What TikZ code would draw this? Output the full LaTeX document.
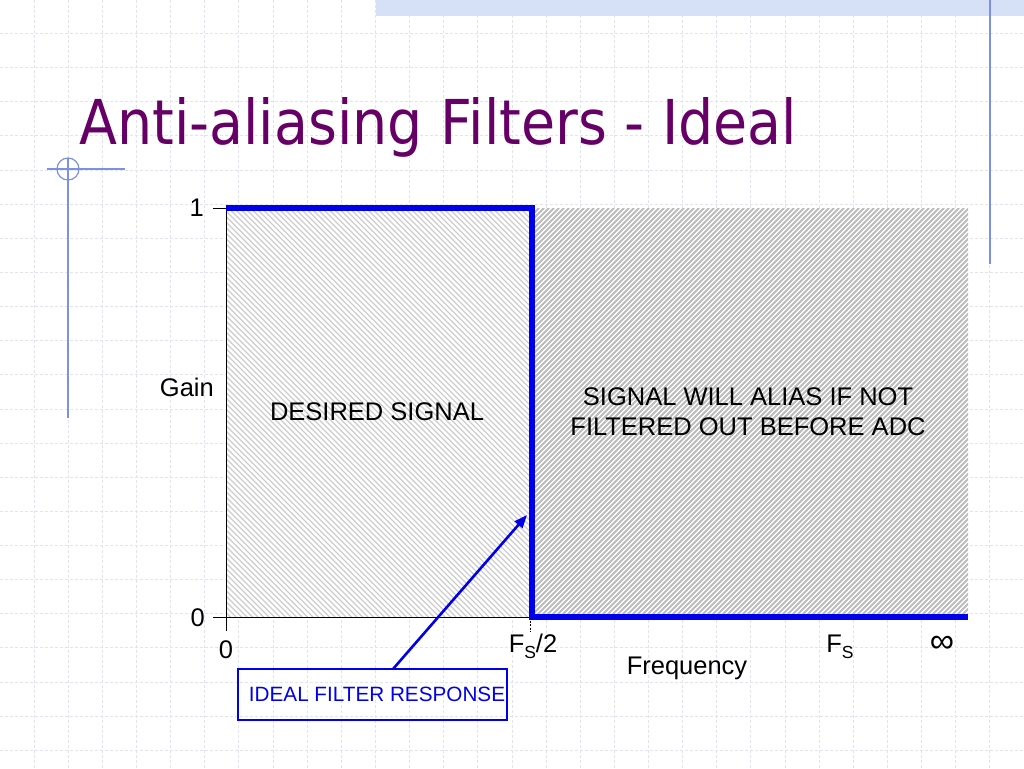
\documentclass[tikz,border=0pt]{standalone}
\usepackage{fontspec}
\setmainfont{Liberation Sans}
\newfontfamily\titlefont{DejaVu Sans}
\usetikzlibrary{arrows.meta}
\definecolor{gridc}{RGB}{226,226,245}
\definecolor{deco}{RGB}{125,145,228}
\definecolor{band}{RGB}{214,225,248}
\definecolor{titlec}{RGB}{102,0,102}
\definecolor{hatchA}{RGB}{205,205,205}
\definecolor{hatchB}{RGB}{188,188,188}
\definecolor{filt}{RGB}{0,0,235}
\tikzset{
  gridline/.style={draw=gridc, line width=1pt, dash pattern=on 3pt off 2pt},
  decoline/.style={draw=deco, line width=1.2pt},
  hatchleft/.style={draw=hatchA, line width=1.2pt},
  hatchright/.style={draw=hatchB, line width=1.9pt},
  axisline/.style={draw=black, line width=1pt},
  filterline/.style={draw=filt, line width=5.5pt, line join=miter},
  lbl/.style={font=\fontsize{25.5}{30}\selectfont, text=black, inner sep=0pt},
  respbox/.style={draw=filt, line width=2.6pt, minimum width=269pt,
    minimum height=51pt, inner sep=0pt},
  resptext/.style={text=filt, font=\fontsize{20.7}{24}\selectfont, inner sep=0pt},
  arrowline/.style={draw=filt, line width=2.6pt, -{Triangle[length=13pt,width=10pt]}}
}
\newcommand{\subS}{\raisebox{-6pt}{\fontsize{17.5}{20}\selectfont S}}
\begin{document}
\begin{tikzpicture}[x=1pt,y=-1pt]
\useasboundingbox (0,0) rectangle (1024,768);
\fill[white] (0,0) rectangle (1024,768);
% background grid
\foreach \i in {1,...,29} \draw[gridline] (\i*34.133,0) -- (\i*34.133,768);
\foreach \j in {1,...,22} \draw[gridline] (0,\j*34.133-0.6) -- (1024,\j*34.133-0.6);
% decorations
\fill[band] (376,0) rectangle (1024,16);
\draw[decoline] (990,0) -- (990,264);
\draw[decoline] (47,169) -- (125,169);
\draw[decoline] (68,158) -- (68,418);
\draw[decoline] (68,169) circle[radius=11pt];
% title
\node[anchor=base west, text=titlec, inner sep=0pt] (title) at (79,144)
  {\resizebox{718pt}{47pt}{\titlefont Anti-aliasing Filters - Ideal}};
% hatched regions
\fill[white] (226,208) rectangle (968,617);
\begin{scope}
  \clip (226,208) rectangle (531,617);
  \foreach \k in {0,...,132} \draw[hatchleft] (-184+\k*5.5,208) -- ++(409,409);
\end{scope}
\begin{scope}
  \clip (531,208) rectangle (968,617);
  \foreach \k in {0,...,172} \draw[hatchright] (120+\k*5,617) -- ++(409,-409);
\end{scope}
% axes
\draw[axisline] (226,208) -- (226,631);
\draw[axisline] (213,617) -- (532,617);
\draw[axisline] (213,208) -- (226,208);
\draw[axisline, line width=0.6pt, dash pattern=on 2pt off 1.5pt] (530,617) -- (530,632);
% ideal filter response
\draw[filterline] (226,208) -- (532,208) -- (532,617) -- (968,617);
% labels
\node[lbl, anchor=east] (one) at (204,208) {1};
\node[lbl, anchor=east] (zeroy) at (205,618) {0};
\node[lbl] (zerox) at (226,650) {0};
\node[lbl, anchor=east] (gain) at (214,387) {Gain};
\node[lbl, anchor=base] (fs2) at (533,652) {F\subS/2};
\node[lbl] (freq) at (687,668) {Frequency};
\node[lbl, anchor=base] (fs) at (840,652) {F\subS};
\node[lbl, font=\fontsize{34}{36}\selectfont] (inf) at (942,644) {∞};
\node[lbl] (desired) at (377,412) {DESIRED SIGNAL};
\node[lbl, align=center, font=\fontsize{25.5}{30}\selectfont] (alias) at (748,412)
  {SIGNAL WILL ALIAS IF NOT\\FILTERED OUT BEFORE ADC};
% response label box and arrow
\node[respbox] (ideal) at (372.5,694.5) {};
\node[resptext] (idealtext) at (377,694) {IDEAL FILTER RESPONSE};
\coordinate (astart) at (393,669);
\coordinate (atip) at (527,515);
\draw[arrowline] (astart) -- (atip);
\end{tikzpicture}
\end{document}
